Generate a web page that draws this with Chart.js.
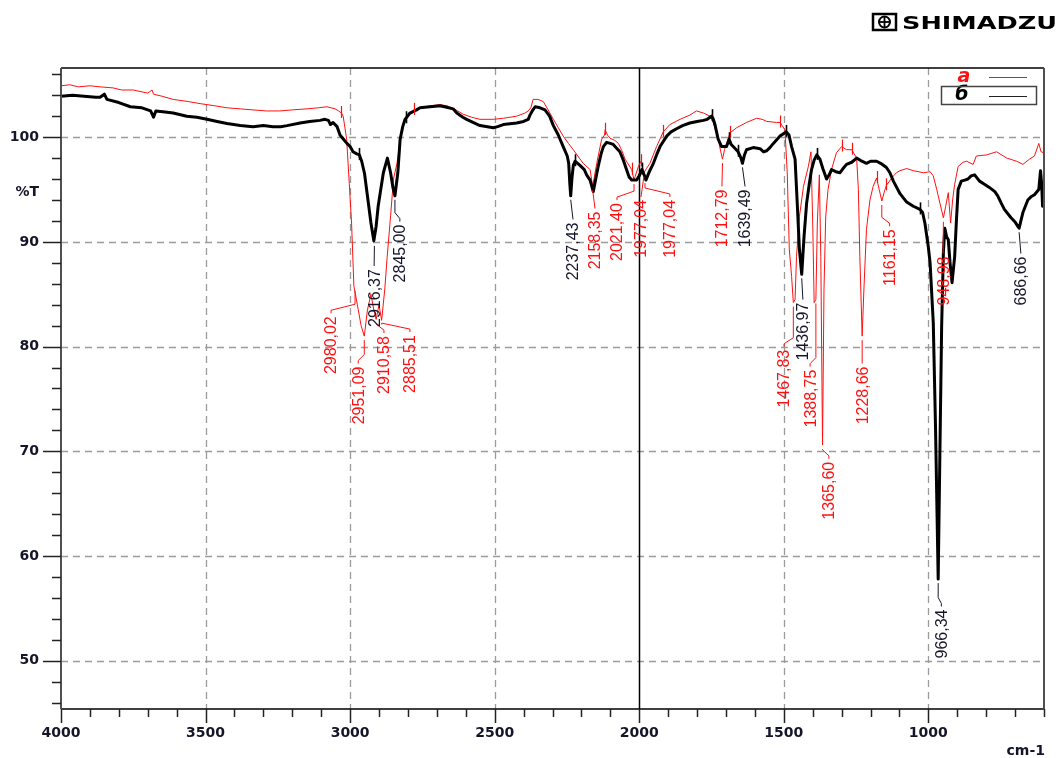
<!DOCTYPE html>
<html><head><meta charset="utf-8">
<script src="https://cdn.jsdelivr.net/npm/chart.js@4/dist/chart.umd.min.js"></script>
<style>html,body{margin:0;padding:0;background:#fff;}#wrap{width:1058px;height:758px;}</style>
</head><body><div id="wrap"><canvas id="c" width="1058" height="758"></canvas></div>
<script>
// ---------------- data ----------------
const seriesNames = ['a', 'б'];
const wnA = [4000,3970,3940,3900,3865,3820,3790,3750,3700,3685,3680,3650,3612,3560,3519,3470,3426,3380,3336,3290,3243,3200,3149,3110,3080,3052,3040,3030,3024,3012,3003,2995,2987,2975,2962,2951,2940,2928,2918,2910,2900,2891,2880,2872,2860,2850,2838,2830,2818,2805,2790,2779,2760,2720,2690,2666,2640,2610,2580,2551,2505,2470,2424,2395,2384,2375,2367,2350,2332,2315,2297,2280,2263,2245,2228,2210,2194,2170,2161,2147,2130,2120,2118,2110,2101,2085,2072,2060,2049,2026,2018,2003,1994,1984,1975,1963,1940,1917,1894,1859,1825,1802,1778,1755,1744,1727,1718,1712,1705,1698,1686,1663,1629,1594,1575,1559,1525,1513,1496,1488,1481,1473,1467,1461,1456,1446,1432,1415,1406,1400,1395,1389,1384,1377,1372,1366,1361,1355,1347,1335,1318,1300,1283,1265,1248,1242,1237,1229,1223,1214,1202,1191,1179,1170,1161,1150,1145,1121,1110,1098,1075,1052,1017,994,983,971,960,948,940,931,923,916,909,897,880,868,845,834,799,764,729,695,673,650,633,618,610,600];
const tA = [104.9,105.0,104.8,104.9,104.8,104.7,104.5,104.5,104.2,104.5,104.1,103.9,103.6,103.4,103.2,103.0,102.8,102.7,102.6,102.5,102.5,102.6,102.7,102.8,102.9,102.7,102.5,102.3,102.0,99.8,95.6,91.8,85.8,84.0,82.0,81.0,83.5,85.0,83.5,82.6,84.0,82.5,85.5,88.5,92.5,96.0,97.5,99.0,101.0,102.0,102.4,102.6,102.8,103.0,103.1,103.0,102.7,102.2,101.9,101.7,101.7,101.8,102.0,102.3,102.5,102.8,103.6,103.6,103.4,102.6,101.7,100.9,100.1,99.4,98.8,98.1,97.5,96.9,95.3,97.5,99.8,100.2,100.7,100.2,99.9,99.7,99.4,98.7,97.9,96.9,95.9,97.2,97.7,96.6,97.0,97.5,99.1,100.5,101.2,101.7,102.1,102.5,102.3,102.0,101.4,99.8,98.6,97.9,98.8,99.4,100.4,100.9,101.4,101.8,101.7,101.5,101.4,101.4,100.7,96.6,89.3,86.7,84.2,84.5,88.6,92.4,95.3,97.2,98.6,91.8,84.2,84.5,91.8,96.4,88.6,70.6,85.4,92.4,95.0,96.9,98.5,99.1,98.8,98.8,98.0,95.0,88.6,81.0,85.4,91.2,94.0,95.3,96.1,95.0,93.9,95.0,95.4,96.3,96.6,96.8,97.0,96.8,96.6,96.7,96.3,95.0,93.7,92.3,93.4,94.7,91.8,94.0,95.5,97.2,97.6,97.7,97.4,98.2,98.3,98.6,98.0,97.7,97.4,97.9,98.2,99.4,98.6,98.5];
const wnB = [4000,3960,3920,3880,3865,3850,3841,3800,3760,3720,3690,3680,3672,3640,3612,3565,3530,3495,3460,3426,3380,3336,3300,3267,3240,3218,3173,3140,3104,3087,3075,3068,3059,3045,3035,3020,3011,3000,2990,2977,2968,2960,2950,2943,2935,2928,2918,2910,2903,2893,2885,2871,2860,2852,2845,2835,2827,2818,2810,2793,2770,2758,2724,2689,2666,2644,2631,2610,2597,2575,2551,2525,2505,2490,2470,2424,2400,2384,2378,2370,2360,2343,2326,2310,2297,2280,2263,2249,2244,2240,2237,2233,2228,2222,2205,2190,2182,2170,2164,2159,2152,2142,2132,2124,2113,2100,2090,2067,2055,2044,2035,2026,2009,2000,1991,1983,1977,1965,1951,1940,1928,1905,1890,1871,1850,1825,1800,1778,1765,1750,1745,1738,1727,1715,1698,1689,1682,1675,1658,1648,1643,1636,1629,1606,1582,1570,1559,1548,1536,1513,1492,1482,1473,1461,1453,1446,1438,1430,1421,1412,1404,1395,1386,1375,1365,1352,1343,1335,1320,1306,1295,1283,1265,1248,1230,1214,1200,1179,1165,1145,1133,1121,1098,1075,1052,1029,1020,1012,1000,994,983,975,966,960,954,948,943,937,931,925,918,909,903,897,886,874,863,852,840,823,806,789,770,760,748,737,714,700,691,686,680,673,656,645,633,618,612,608,605,600];
const tB = [103.9,104.0,103.9,103.8,103.8,104.1,103.6,103.3,102.9,102.8,102.5,101.9,102.5,102.4,102.3,102.0,101.9,101.7,101.5,101.3,101.1,101.0,101.1,101.0,101.0,101.1,101.35,101.5,101.6,101.7,101.6,101.2,101.4,101.0,100.2,99.7,99.4,99.1,98.6,98.4,98.3,97.7,96.5,95.0,93.3,91.8,90.1,91.5,93.4,95.2,96.6,98.0,96.6,95.2,94.4,96.6,99.8,101.0,101.7,102.3,102.6,102.8,102.9,103.0,102.85,102.7,102.3,101.9,101.7,101.4,101.1,101.0,100.9,101.0,101.2,101.35,101.5,101.7,102.1,102.5,102.9,102.8,102.6,102.0,101.1,100.2,99.1,98.2,97.5,95.5,94.4,96.0,97.3,97.7,97.3,96.9,96.4,95.9,95.3,94.8,95.8,97.2,98.4,99.1,99.5,99.4,99.3,98.6,97.8,96.9,96.2,95.9,95.9,96.3,96.9,96.4,95.9,96.7,97.5,98.3,99.1,100.1,100.5,100.8,101.1,101.35,101.5,101.6,101.7,102.0,101.8,101.2,99.8,99.1,99.1,99.8,99.3,99.1,98.6,98.0,97.5,98.3,98.8,99.0,98.9,98.6,98.7,99.0,99.4,100.1,100.5,100.2,99.1,97.9,93.4,89.3,86.9,90.5,93.7,95.5,96.9,97.8,98.3,97.9,97.0,96.0,96.4,96.9,96.7,96.6,97.0,97.4,97.6,98.0,97.7,97.5,97.7,97.7,97.5,97.1,96.6,95.8,94.6,93.8,93.4,93.1,92.8,91.8,89.5,88.0,82.3,72.0,57.8,70.0,82.0,89.0,91.3,90.5,90.2,88.0,86.1,88.6,92.0,95.0,95.8,95.9,96.0,96.3,96.4,95.8,95.5,95.2,94.8,94.4,93.7,93.1,92.3,91.9,91.5,91.3,92.0,92.8,94.0,94.3,94.5,95.0,96.8,95.5,93.4,95.0];
const xTickValues = [4000,3500,3000,2500,2000,1500,1000];
const yTickValues = [50,60,70,80,90,100];
const cursorWn = 2000;
// peak annotations
const peakText   = ['2980,02','2951,09','2910,58','2885,51','2916,37','2845,00','2237,43','2158,35','2021,40','1977,04','1977,04','1712,79','1639,49','1467,83','1436,97','1388,75','1365,60','1228,66','1161,15','948,98','966,34','686,66'];
const peakWn     = [2983,2951,2910,2891,2916,2845,2237,2161,2018,1984,1980,1712,1643,1467,1438,1389,1366,1229,1161,948,966,686];
const peakT      = [85.7,81.0,82.6,82.5,90.0,94.4,94.4,95.3,95.9,96.6,96.0,97.9,97.5,84.2,86.9,84.5,70.6,81.0,93.9,92.3,57.8,91.3];
const peakSeries = [0,0,0,0,1,1,1,0,0,0,0,0,1,0,1,0,0,0,0,0,1,1];
// label placement (layout, in axis units)
const labelWn    = [3066,2972,2883,2793,2917,2828,2229,2153,2077,1994,1894,1714,1634,1499,1434,1409,1344,1229,1134,949,955,680];
const labelTopT  = [82.9,78.1,81.0,81.1,87.4,91.65,91.85,92.9,93.7,94.0,94.0,95.0,95.0,79.7,84.2,77.8,69.0,78.1,91.2,88.6,54.9,88.6];
// small peak-pick marks on the traces
const markWn     = [3030,2779,2118,2026,1994,1917,1686,1513,1300,1265,1179,1145, 2968,2805,2222,1991,1750,1689,1658,1492,1386,1029];
const markT      = [102.3,102.6,100.7,96.9,97.7,100.5,100.4,101.4,99.1,98.8,96.1,95.4, 98.3,101.8,97.7,96.9,102.0,99.8,98.6,100.5,98.3,93.1];
const markSeries = [0,0,0,0,0,0,0,0,0,0,0,0, 1,1,1,1,1,1,1,1,1,1];

// ---------------- style ----------------
const RED = '#ff1010', BLACK = '#000000', TXT = '#15152a';
const tickFont = {family: 'DejaVu Sans', size: 14, weight: 'bold'};

function seg(ctx, x1, y1, x2, y2) { ctx.beginPath(); ctx.moveTo(x1, y1); ctx.lineTo(x2, y2); ctx.stroke(); }

const decor = {
  id: 'decor',
  beforeDatasetsDraw(chart) {
    const {ctx, chartArea: a, scales: {x, y}} = chart;
    ctx.save();
    ctx.strokeStyle = '#9b9b9b'; ctx.lineWidth = 1.3; ctx.setLineDash([7, 5]);
    yTickValues.forEach(v => { const py = Math.round(y.getPixelForValue(v)) + 0.5; seg(ctx, a.left, py, a.right, py); });
    xTickValues.forEach(v => { if (v === cursorWn || v === x.max) return; const px = Math.round(x.getPixelForValue(v)) + 0.5; seg(ctx, px, a.top, px, a.bottom); });
    ctx.setLineDash([]);
    ctx.strokeStyle = '#000'; ctx.lineWidth = 1.5;
    const cx = Math.round(x.getPixelForValue(cursorWn)) + 0.5; seg(ctx, cx, a.top, cx, a.bottom);
    ctx.restore();
  },
  afterDatasetsDraw(chart) {
    const {ctx, scales: {x, y}} = chart;
    ctx.save();
    // peak-pick marks
    markWn.forEach((w, i) => {
      const px = Math.round(x.getPixelForValue(w)) + 0.5, py = y.getPixelForValue(markT[i]);
      ctx.strokeStyle = markSeries[i] === 0 ? RED : BLACK; ctx.lineWidth = markSeries[i] === 0 ? 1.2 : 1.6;
      seg(ctx, px, py - 7, px, py + 5);
    });
    ctx.font = '16px "Liberation Sans Narrow", "Liberation Sans", sans-serif';
    ctx.lineWidth = 1;
    peakText.forEach((t, i) => {
      const col = peakSeries[i] === 0 ? RED : TXT;
      const px = x.getPixelForValue(peakWn[i]), py = y.getPixelForValue(peakT[i]);
      const lx = x.getPixelForValue(labelWn[i]), ly = y.getPixelForValue(labelTopT[i]);
      ctx.strokeStyle = col; ctx.fillStyle = col;
      ctx.beginPath(); ctx.moveTo(px, py + 4);
      if (Math.abs(lx - px) > 3) { ctx.lineTo(px, ly - 12); ctx.lineTo(lx, ly - 6); }
      ctx.lineTo(lx, ly - 3); ctx.stroke();
      ctx.save(); ctx.translate(lx, ly); ctx.rotate(-Math.PI / 2);
      ctx.textAlign = 'right'; ctx.textBaseline = 'middle'; ctx.fillText(t, 0, 1);
      ctx.restore();
    });
    ctx.restore();
  },
  afterDraw(chart) {
    const {ctx, chartArea: a, scales: {x, y}} = chart;
    ctx.save();
    // frame
    ctx.strokeStyle = '#000'; ctx.lineWidth = 1.5;
    seg(ctx, a.left, a.top, a.right, a.top);
    seg(ctx, a.left, a.bottom, a.right, a.bottom);
    ctx.strokeStyle = '#505050'; ctx.lineWidth = 2;
    seg(ctx, a.left, a.top, a.left, a.bottom);
    seg(ctx, a.right, a.top, a.right, a.bottom + 1);
    // tick marks
    ctx.strokeStyle = '#222'; ctx.lineWidth = 1.5;
    for (let v = 46; v <= 106; v += 2) {
      const py = Math.round(y.getPixelForValue(v)) + 0.5;
      const major = yTickValues.includes(v);
      seg(ctx, a.left - (major ? 18 : 9), py, a.left, py);
    }
    for (let v = 600; v <= 4000; v += 100) {
      const px = Math.round(x.getPixelForValue(v)) + 0.5;
      const major = xTickValues.includes(v);
      seg(ctx, px, a.bottom, px, a.bottom + (major ? 14 : 8));
    }
    // axis titles
    ctx.fillStyle = TXT; ctx.font = 'bold 14px "DejaVu Sans"';
    ctx.textAlign = 'right'; ctx.textBaseline = 'middle';
    ctx.fillText('%T', 39, 192);
    ctx.fillText('cm-1', 1045, 751);
    // legend
    ctx.font = 'italic bold 19px "DejaVu Sans"'; ctx.textAlign = 'center';
    ctx.fillStyle = RED; ctx.fillText(seriesNames[0], 964, 77);
    ctx.strokeStyle = RED; ctx.lineWidth = 1; seg(ctx, 989, 77.5, 1027, 77.5);
    ctx.fillStyle = '#000'; ctx.fillText(seriesNames[1], 962, 95);
    ctx.strokeStyle = '#222'; ctx.lineWidth = 1; seg(ctx, 989, 96.5, 1027, 96.5);
    ctx.strokeStyle = '#444'; ctx.lineWidth = 1.5; ctx.strokeRect(941.5, 86.5, 95, 18);
    // logo
    ctx.strokeStyle = '#000'; ctx.lineWidth = 2.5;
    ctx.strokeRect(873, 14, 23, 16);
    ctx.lineWidth = 2; ctx.beginPath(); ctx.arc(884.5, 22, 5.5, 0, Math.PI * 2); ctx.stroke();
    ctx.lineWidth = 1.8; seg(ctx, 879, 22, 890, 22); seg(ctx, 884.5, 16.5, 884.5, 27.5);
    ctx.font = 'bold 18px "DejaVu Sans"'; ctx.textAlign = 'left'; ctx.textBaseline = 'alphabetic';
    const w = ctx.measureText('SHIMADZU').width;
    ctx.translate(902, 28.5); ctx.scale(155 / w, 1); ctx.fillStyle = '#000'; ctx.fillText('SHIMADZU', 0, 0);
    ctx.restore();
  }
};

new Chart(document.getElementById('c'), {
  type: 'line',
  data: {
    datasets: [
      {label: seriesNames[0], data: wnA.map((v, i) => ({x: v, y: tA[i]})), borderColor: RED, borderWidth: 1, pointRadius: 0, tension: 0, order: 2},
      {label: seriesNames[1], data: wnB.map((v, i) => ({x: v, y: tB[i]})), borderColor: BLACK, borderWidth: 3, pointRadius: 0, tension: 0, order: 1, borderJoinStyle: 'round'}
    ]
  },
  options: {
    responsive: false, animation: false, devicePixelRatio: 1,
    layout: {padding: {top: 68, right: 14, left: 0, bottom: 0}},
    plugins: {legend: {display: false}, tooltip: {enabled: false}},
    scales: {
      x: {
        type: 'linear', reverse: true, min: 600, max: 4000,
        grid: {display: false, drawTicks: false}, border: {display: false},
        ticks: {font: tickFont, color: TXT, padding: 16, maxRotation: 0, autoSkip: false, callback: v => String(v)},
        afterBuildTicks: s => { s.ticks = xTickValues.map(v => ({value: v})); },
        afterFit: s => { s.height = 49; }
      },
      y: {
        min: 45.4, max: 106.6,
        grid: {display: false, drawTicks: false}, border: {display: false},
        ticks: {font: tickFont, color: TXT, padding: 22, autoSkip: false, callback: v => String(v)},
        afterBuildTicks: s => { s.ticks = yTickValues.map(v => ({value: v})); },
        afterFit: s => { s.width = 61; }
      }
    }
  },
  plugins: [decor]
});
</script></body></html>
